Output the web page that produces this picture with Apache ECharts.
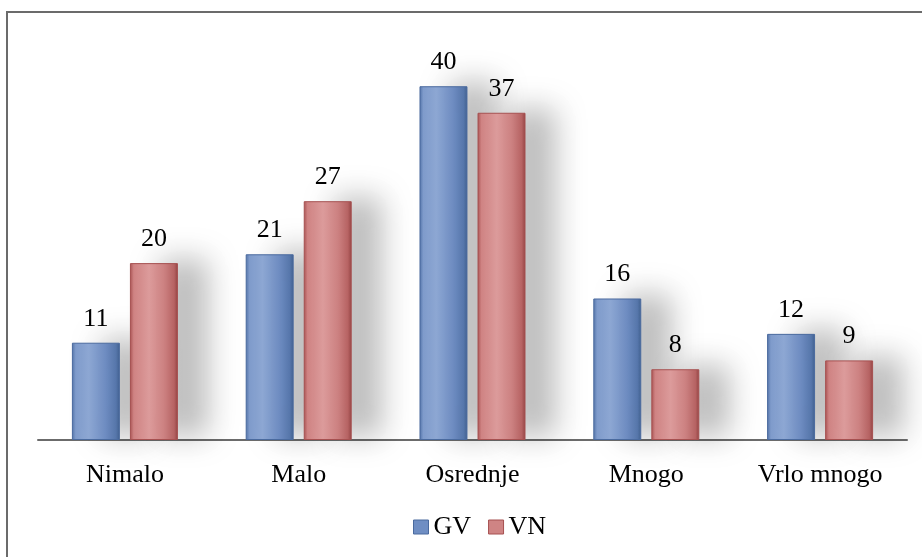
<!DOCTYPE html>
<html>
<head>
<meta charset="utf-8">
<script src="https://cdn.jsdelivr.net/npm/echarts@6/dist/echarts.min.js"></script>
<style>html,body{margin:0;padding:0;background:#fff;}#c{width:922px;height:557px;}</style>
</head>
<body>
<div id="c"></div>
<script>
const categories = ['Nimalo', 'Malo', 'Osrednje', 'Mnogo', 'Vrlo mnogo'];
const seriesNames = ['GV', 'VN'];
const gvValues = [11, 21, 40, 16, 12];
const vnValues = [20, 27, 37, 8, 9];

const FONT = '"Liberation Serif", "Times New Roman", serif';
function grad(stops) {
  return new echarts.graphic.LinearGradient(0, 0, 1, 0, stops.map((c) => ({offset: c[0], color: c[1]})));
}
const blueFill = grad([[0, '#5273a8'], [0.08, '#7f9bcb'], [0.35, '#8ea8d4'], [0.7, '#6f8ec3'], [0.92, '#5777ac'], [1, '#41618f']]);
const redFill = grad([[0, '#a85252'], [0.08, '#cf8383'], [0.4, '#dd9c9c'], [0.7, '#cf8484'], [0.92, '#b86464'], [1, '#944444']]);

const chart = echarts.init(document.getElementById('c'), null, {renderer: 'canvas'});
function mkSeries(name, data, fill, border) {
  return {
    name: name,
    type: 'bar',
    data: data,
    barGap: '21%',
    barCategoryGap: '39%',
    itemStyle: {
      color: fill,
      borderColor: border,
      borderWidth: 1,
      shadowColor: 'rgba(0,0,0,0.26)',
      shadowBlur: 30,
      shadowOffsetX: 30,
      shadowOffsetY: -4
    },
    label: {
      show: true,
      position: 'top',
      distance: 11,
      fontFamily: FONT,
      fontSize: 26,
      color: '#000'
    }
  };
}
chart.setOption({
  animation: false,
  backgroundColor: '#fff',
  graphic: [{
    type: 'rect',
    shape: {x: 7, y: 12, width: 1000, height: 1000},
    style: {fill: 'none', stroke: '#6b6b6b', lineWidth: 2},
    silent: true,
    z: -10
  }],
  grid: {left: 38, right: 15, top: 42, bottom: 117},
  legend: {
    data: seriesNames.map((n, i) => ({name: n, icon: 'rect', itemStyle: {color: i === 0 ? '#6f8ec3' : '#cf8484', borderColor: i === 0 ? '#4a6a9e' : '#a65050', borderWidth: 1}})),
    bottom: 12,
    left: 408,
    itemWidth: 15,
    itemHeight: 14,
    itemGap: 17,
    textStyle: {fontFamily: FONT, fontSize: 26, color: '#000'}
  },
  xAxis: {
    type: 'category',
    data: categories,
    axisLine: {lineStyle: {color: '#6b6b6b', width: 2}},
    axisTick: {show: false},
    axisLabel: {fontFamily: FONT, fontSize: 26, color: '#000', margin: 22}
  },
  yAxis: {
    type: 'value',
    min: 0,
    max: 45,
    show: false
  },
  series: [
    mkSeries(seriesNames[0], gvValues, blueFill, '#4a6a9e'),
    mkSeries(seriesNames[1], vnValues, redFill, '#a65050')
  ]
});
</script>
</body>
</html>
